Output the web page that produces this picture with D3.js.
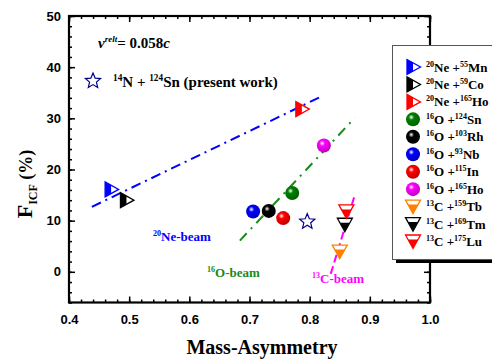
<!DOCTYPE html>
<html>
<head>
<meta charset="utf-8">
<script src="https://cdn.jsdelivr.net/npm/d3@7"></script>
<style>
  body { margin: 0; background: #fff; }
  svg { display: block; }
  .tick text { font-family: "Liberation Sans", Arial, sans-serif; font-weight: bold; font-size: 13px; }
  .serif { font-family: "Liberation Serif", "Times New Roman", serif; font-weight: bold; }
</style>
</head>
<body>
<div id="chart"></div>
<script>
// data
const neData = [
  { label: ["20", "Ne +", "55", "Mn"], x: 0.470, y: 16.1, color: "#0000ff" },
  { label: ["20", "Ne +", "59", "Co"], x: 0.4955, y: 14.0, color: "#000000" },
  { label: ["20", "Ne +", "165", "Ho"], x: 0.787, y: 31.8, color: "#ff0000" }
];
const oData = [
  { label: ["16", "O +", "124", "Sn"], x: 0.771, y: 15.4, color: "#008000" },
  { label: ["16", "O +", "103", "Rh"], x: 0.732, y: 11.9, color: "#000000" },
  { label: ["16", "O +", "93", "Nb"], x: 0.706, y: 11.8, color: "#0000ff" },
  { label: ["16", "O +", "115", "In"], x: 0.756, y: 10.5, color: "#ff0000" },
  { label: ["16", "O +", "165", "Ho"], x: 0.8236, y: 24.7, color: "#ff00ff" }
];
const cData = [
  { label: ["13", "C +", "159", "Tb"], x: 0.850, y: 3.95, color: "#ff8000" },
  { label: ["13", "C +", "169", "Tm"], x: 0.8585, y: 9.2, color: "#000000" },
  { label: ["13", "C +", "175", "Lu"], x: 0.861, y: 11.8, color: "#ff0000" }
];
const presentWork = { x: 0.796, y: 9.8 };

const neLine = [[0.438, 12.7], [0.820, 34.3]];
const oLine = [[0.684, 6.1], [0.875, 30.1]];
const cLine = [[0.835, -0.4], [0.875, 15.0]];

const xTicks = [0.4, 0.5, 0.6, 0.7, 0.8, 0.9, 1.0];
const yTicks = [0, 10, 20, 30, 40, 50];

const W = 492, H = 363;
const x = d3.scaleLinear().domain([0.4, 1.0]).range([69, 430]);
const y = d3.scaleLinear().domain([-6, 50]).range([302.5, 16]);

const svg = d3.select("#chart").append("svg")
  .attr("width", W).attr("height", H);

const defs = svg.append("defs");
function ballGradient(color, id) {
  const g = defs.append("radialGradient").attr("id", id)
    .attr("cx", "38%").attr("cy", "35%").attr("r", "65%");
  g.append("stop").attr("offset", "0%").attr("stop-color", "#ffffff");
  g.append("stop").attr("offset", "30%").attr("stop-color", color);
  g.append("stop").attr("offset", "100%").attr("stop-color", d3.color(color).darker(0.8));
  return "url(#" + id + ")";
}

// axes (ticks inward)
const xMinor = d3.range(0.4, 1.0001, 0.02);
const yMinor = d3.range(-6, 50.001, 2);

svg.append("g").attr("transform", `translate(0,${y(-6)})`)
  .call(d3.axisBottom(x).tickValues(xMinor).tickSize(-3).tickFormat(""));
svg.append("g").attr("transform", `translate(0,${y(-6)})`)
  .call(d3.axisBottom(x).tickValues(xTicks).tickSize(-6).tickPadding(12).tickFormat(d3.format(".1f")));
svg.append("g").attr("transform", `translate(0,${y(50)})`)
  .call(d3.axisTop(x).tickValues(xMinor).tickSize(-3).tickFormat(""));
svg.append("g").attr("transform", `translate(0,${y(50)})`)
  .call(d3.axisTop(x).tickValues(xTicks).tickSize(-6).tickFormat(""));

svg.append("g").attr("transform", `translate(${x(0.4)},0)`)
  .call(d3.axisLeft(y).tickValues(yMinor).tickSize(-3).tickFormat(""));
svg.append("g").attr("transform", `translate(${x(0.4)},0)`)
  .call(d3.axisLeft(y).tickValues(yTicks).tickSize(-6).tickPadding(8));
svg.append("g").attr("transform", `translate(${x(1.0)},0)`)
  .call(d3.axisRight(y).tickValues(yMinor).tickSize(-3).tickFormat(""));
svg.append("g").attr("transform", `translate(${x(1.0)},0)`)
  .call(d3.axisRight(y).tickValues(yTicks).tickSize(-6).tickFormat(""));

svg.selectAll(".domain").remove();
svg.selectAll(".tick line").attr("stroke", "#000").attr("stroke-width", 1.5);

svg.append("rect")
  .attr("x", x(0.4)).attr("y", y(50))
  .attr("width", x(1.0) - x(0.4)).attr("height", y(-6) - y(50))
  .attr("fill", "none").attr("stroke", "#000").attr("stroke-width", 2.2);

// fit lines
const line = d3.line().x(d => x(d[0])).y(d => y(d[1]));
svg.append("path").datum(neLine).attr("d", line)
  .attr("stroke", "#0000ff").attr("stroke-width", 2).attr("fill", "none")
  .attr("stroke-dasharray", "10,5,2,5");
svg.append("path").datum(oLine).attr("d", line)
  .attr("stroke", "#1a8a1a").attr("stroke-width", 2).attr("fill", "none")
  .attr("stroke-dasharray", "10,6,2,6");
svg.append("path").datum(cLine).attr("d", line)
  .attr("stroke", "#ff00ff").attr("stroke-width", 2).attr("fill", "none")
  .attr("stroke-dasharray", "8,4");

// markers
function rightTri(g, color) {
  g.append("path").attr("d", "M-6,-7.5L-6,7.5L7.5,0Z")
    .attr("fill", "#fff").attr("stroke", color).attr("stroke-width", 1.3);
  g.append("path").attr("d", "M-6,-7.5L0,-4.2L0,4.2L-6,7.5Z").attr("fill", color);
}
function downTri(g, color) {
  g.append("path").attr("d", "M-7.5,-6.5L7.5,-6.5L0,7Z")
    .attr("fill", "#fff").attr("stroke", color).attr("stroke-width", 1.3);
  g.append("path").attr("d", "M-5.1,-2L5.1,-2L0,7Z").attr("fill", color);
}
function ball(g, color, i) {
  g.append("circle").attr("r", 7).attr("fill", ballGradient(color, "ball" + i));
}
function star(g, color, r) {
  const pts = d3.range(10).map(k => {
    const a = -Math.PI / 2 + k * Math.PI / 5;
    const rr = k % 2 === 0 ? r : r * 0.45;
    return [rr * Math.cos(a), rr * Math.sin(a)];
  });
  g.append("path").attr("d", "M" + pts.join("L") + "Z")
    .attr("fill", "none").attr("stroke", color).attr("stroke-width", 1.2);
}

neData.forEach(d => rightTri(svg.append("g").attr("transform", `translate(${x(d.x)},${y(d.y)})`), d.color));
oData.forEach((d, i) => ball(svg.append("g").attr("transform", `translate(${x(d.x)},${y(d.y)})`), d.color, i));
cData.forEach(d => downTri(svg.append("g").attr("transform", `translate(${x(d.x)},${y(d.y)})`), d.color));
star(svg.append("g").attr("transform", `translate(${x(presentWork.x)},${y(presentWork.y)})`), "#00008b", 8);

// text with superscripts
function nucText(px, py, parts, size, color) {
  const t = svg.append("text").attr("class", "serif").attr("x", px).attr("y", py)
    .attr("fill", color).attr("font-size", size);
  parts.forEach((p, i) => {
    const sup = i % 2 === 0;
    t.append("tspan").text(p)
      .attr("font-size", sup ? size * 0.62 : size)
      .attr("dy", sup ? -size * 0.38 : size * 0.38);
  });
  return t;
}

nucText(153, 241, ["20", "Ne-beam"], 13, "#0000ff");
nucText(207, 277, ["16", "O-beam"], 13, "#1a8a1a");
nucText(312, 283, ["13", "C-beam"], 13, "#ff00ff");

// velocity note
const v = svg.append("text").attr("class", "serif").attr("x", 98).attr("y", 48).attr("font-size", 15);
v.append("tspan").text("v").attr("font-style", "italic");
v.append("tspan").text("relt").attr("font-style", "italic").attr("font-size", 9).attr("dy", -6);
v.append("tspan").text("= 0.058").attr("dy", 6);
v.append("tspan").text("c").attr("font-style", "italic");

star(svg.append("g").attr("transform", "translate(93,81)"), "#00008b", 8);
nucText(113, 87, ["14", "N + ", "124", "Sn (present work)"], 15, "#000");

// legend
const legendItems = neData.map(d => ({ d, kind: "ne" }))
  .concat(oData.map((d, i) => ({ d, kind: "o", i })))
  .concat(cData.map(d => ({ d, kind: "c" })));

svg.append("rect").attr("x", 396).attr("y", 49).attr("width", 120).attr("height", 214).attr("fill", "#000");
svg.append("rect").attr("x", 392.5).attr("y", 45.5).attr("width", 120).attr("height", 214)
  .attr("fill", "#fff").attr("stroke", "#555").attr("stroke-width", 1);

legendItems.forEach((it, k) => {
  const cy = 67 + k * 17.45;
  const g = svg.append("g").attr("transform", `translate(413,${cy})`);
  if (it.kind === "ne") rightTri(g, it.d.color);
  else if (it.kind === "o") ball(g, it.d.color, "L" + it.i);
  else downTri(g, it.d.color);
  nucText(426, cy + 4.5, it.d.label, 13, "#000");
});

// axis titles
svg.append("text").attr("class", "serif").attr("x", 262).attr("y", 354)
  .attr("text-anchor", "middle").attr("font-size", 20).text("Mass-Asymmetry");

const yt = svg.append("text").attr("class", "serif")
  .attr("transform", "translate(32,184) rotate(-90)")
  .attr("text-anchor", "middle").attr("font-size", 22);
yt.append("tspan").text("F");
yt.append("tspan").text("ICF").attr("font-size", 12).attr("dy", 5);
yt.append("tspan").text(" (%)").attr("font-size", 18).attr("dy", -5);
</script>
</body>
</html>
